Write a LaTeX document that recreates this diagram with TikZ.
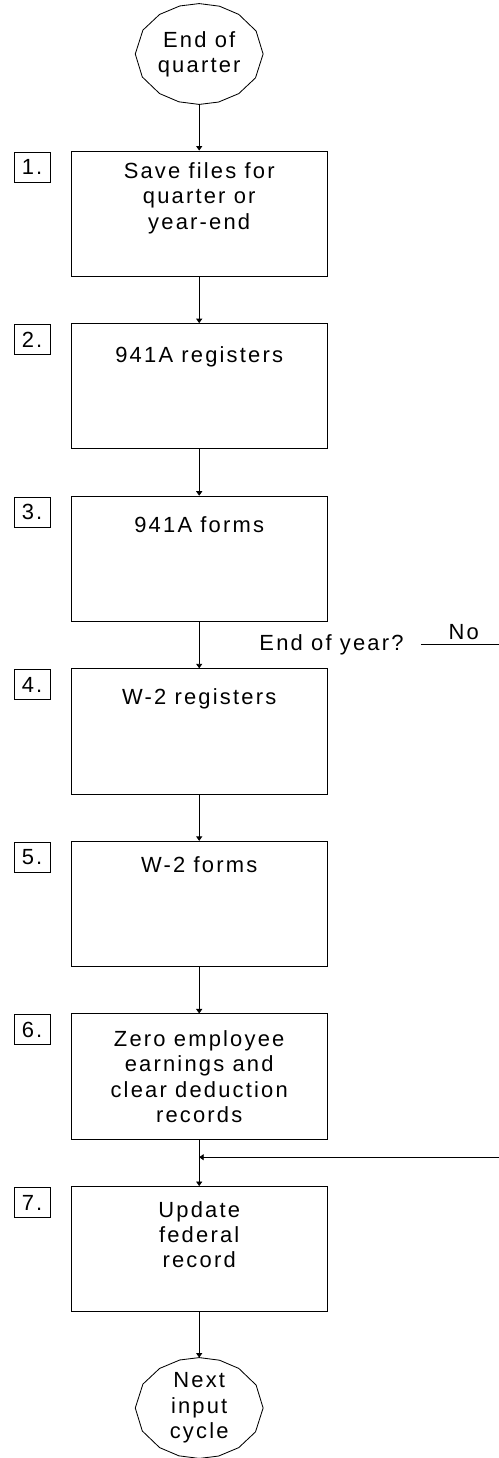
\documentclass[tikz,border=0pt]{standalone}
\usepackage{fontspec}
\usepackage{tikz}
\usetikzlibrary{arrows.meta,positioning,shapes.geometric}

\newfontfamily\chartfont{Liberation Sans}[LetterSpace=10]

\tikzset{
  stepbox/.style={draw, minimum width=6.4cm, minimum height=3.13cm, inner sep=0pt},
  steptext/.style={align=center, inner sep=0pt},
  numbox/.style={draw, minimum width=0.9cm, minimum height=0.75cm, inner sep=0pt},
  term/.style={ellipse, minimum width=3.175cm, minimum height=2.5cm, inner sep=0pt, align=center},
}

\begin{document}
\begin{tikzpicture}[>={Triangle[length=3.2pt,width=4.3pt]}, line width=0.6pt,
    font={\chartfont\fontsize{15.6}{18}\selectfont}]

  \useasboundingbox (0,0) rectangle (12.475,-36.45);

  % ----------------------
  % Inizio e fine (terminali a poligono)
  % ----------------------
  \node[term] (start) at (4.98,-1.35) {End of\\quarter};
  \node[term] (stop)  at (4.98,-35.2) {Next\\input\\cycle};
  \foreach \t in {start,stop}{
    \draw (\t.0) \foreach \a in {22.5,45,...,337.5}{ -- (\t.\a)} -- cycle;
  }

  % ----------------------
  % Passi 1-7 (box, testo in alto, numero a sinistra)
  % ----------------------
  \foreach \i/\off/\txt in {1/0.29/{Save files for\\quarter or\\year-end},
                            2/0.57/{941A registers},
                            3/0.52/{941A forms},
                            4/0.49/{W-2 registers},
                            5/0.37/{W-2 forms},
                            6/0.42/{Zero employee\\earnings and\\clear deduction\\records},
                            7/0.375/{Update\\federal\\record}}{
    \node[stepbox] (s\i) at (4.98,{-3.775-(\i-1)*4.3145-1.565}) {};
    \node[steptext, below=\off cm of s\i.north] (t\i) {\txt};
    \node[numbox] (n\i) at (0.8,{-3.775-(\i-1)*4.3145-0.4}) {\i.};
  }

  % ----------------------
  % Frecce verticali
  % ----------------------
  \draw[->] (start) -- (s1);
  \foreach \i/\j in {1/2,2/3,3/4,4/5,5/6,6/7}{
    \draw[->] (s\i) -- (s\j);
  }
  \draw[->] (s7) -- (stop);

  % ----------------------
  % Ramo "End of year?" e ritorno
  % ----------------------
  \node[anchor=base east, inner sep=0pt] (eoy) at (10.1,-16.25) {End of year?};
  \coordinate (noL) at (10.52,-16.11);
  \coordinate (noR) at (12.475,-16.11);
  \draw (noL) -- node[pos=0.55, above] (no) {No} (noR);

  \coordinate (ret) at (12.475,-28.93);
  \draw[->] (ret) -- (ret -| s6.south);

\end{tikzpicture}
\end{document}
